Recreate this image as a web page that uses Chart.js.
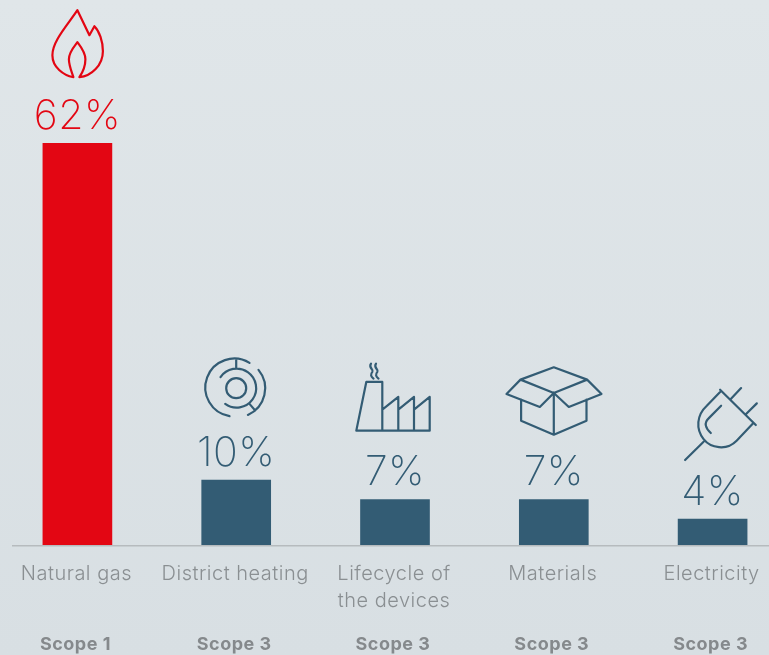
<!DOCTYPE html>
<html>
<head>
<meta charset="utf-8">
<script src="https://cdn.jsdelivr.net/npm/chart.js@4"></script>
<style>
  html, body { margin: 0; padding: 0; width: 769px; height: 655px; overflow: hidden; }
  body { background: linear-gradient(#e0e6e9, #d8dfe3); position: relative; }
  #myChart { position: absolute; left: -2px; top: 0; }
</style>
</head>
<body>
<canvas id="myChart" width="794" height="655"></canvas>
<script>
var categories = [['Natural gas'], ['District heating'], ['Lifecycle of', 'the devices'], ['Materials'], ['Electricity']];
var scopes = ['Scope 1', 'Scope 3', 'Scope 3', 'Scope 3', 'Scope 3'];
var values = [62, 10, 7, 7, 4];
var barColors = ['#e30613', '#335c74', '#335c74', '#335c74', '#335c74'];

// icons are drawn relative to the top centre of their bar
var icons = [
  'M-4 -66C-14 -68 -25 -76 -25 -88C-25 -102 -10 -118 0 -133L12 -108L17 -117C22 -112 25.5 -102 25.5 -92C25.5 -78 14 -67 2 -66C6 -72 8 -78 8 -84C8 -91 3 -97 0 -101C-3 -97 -8.5 -91 -8.5 -84C-8.5 -78 -6 -72 -4 -66Z',
  'M13.3 -117.3A29 29 0 1 0 -6.7 -64M22.3 -110.3A29 29 0 0 1 11.7 -65.3M-15.7 -103A19.5 19.5 0 1 1 -11 -76.3M10 -92A10 10 0 1 1 -10 -92A10 10 0 1 1 10 -92M0 -121L0 -111.5M13.3 -76.3L19 -69.7',
  'M-38.7 -69L-28.7 -117.7L-12.7 -117.7L-12.7 -69M-38.7 -69L34.7 -69L34.7 -102.7L19 -90L19 -102.7L3.3 -90L3.3 -102.7L-12.7 -90M3.3 -90L3.3 -69M19 -90L19 -69M-24 -136C-27 -132 -21 -130 -22.5 -128C-25 -125 -24 -123 -21.5 -121M-19 -136C-22 -132 -16 -130 -17.5 -128C-20 -125 -19 -123 -16.5 -121',
  'M0 -132.3L33.3 -120L0 -106.7L-33.3 -120ZM-33.3 -120L-47.3 -105.7L-14 -92.7L0 -106.7L15 -92.7L47.7 -105.7L33.3 -120M-32.7 -100L-32.7 -79L0 -65L32.7 -79L32.7 -100M0 -106.7L0 -65',
  'M7.5 -129.3L43.2 -94M18.2 -120L28.5 -131M33.5 -105L44.2 -115.7M7.5 -127L-5.8 -113.3C-16 -104 -17 -90 -9 -80C-2 -71 14 -68 24 -78.3L40.8 -96M-9 -77.3L-27.5 -59M8.5 -113.3L-4 -100.7C-9 -96 -7 -91 -1.8 -86'
];

var markupPlugin = {
  id: 'markup',
  beforeDraw: function (chart) {
    chart.ctx.letterSpacing = '0.5px';
  },
  beforeDatasetsDraw: function (chart) {
    var c = chart.ctx;
    var y0 = chart.scales.y.getPixelForValue(0);
    c.save();
    c.fillStyle = '#b6bbbe';
    c.fillRect(14, y0, chart.width - 14, 1.5);
    c.restore();
  },
  afterDatasetsDraw: function (chart) {
    var c = chart.ctx;
    var bars = chart.getDatasetMeta(0).data;
    bars.forEach(function (bar, i) {
      c.save();
      c.fillStyle = barColors[i];
      c.font = '250 41px Inter';
      c.letterSpacing = '0.5px';
      c.textAlign = 'center';
      c.textBaseline = 'alphabetic';
      c.fillText(values[i] + '%', bar.x, bar.y - 14.5);
      c.translate(bar.x, bar.y);
      c.strokeStyle = barColors[i];
      c.lineWidth = 2.2;
      c.lineJoin = 'round';
      c.lineCap = 'round';
      c.stroke(new Path2D(icons[i]));
      c.restore();
    });
  }
};

new Chart(document.getElementById('myChart'), {
  type: 'bar',
  data: {
    labels: categories,
    datasets: [{
      data: values,
      backgroundColor: barColors,
      barThickness: 69,
      borderWidth: 0
    }]
  },
  options: {
    responsive: false,
    animation: false,
    layout: { padding: 0 },
    plugins: { legend: { display: false }, tooltip: { enabled: false } },
    scales: {
      y: { display: false, min: 0, max: 84.1 },
      x: {
        position: 'bottom',
        weight: 0,
        grid: { display: false },
        border: { display: false },
        afterFit: function (scale) { scale.height = 78; },
        ticks: {
          autoSkip: false,
          maxRotation: 0,
          padding: 7,
          labelOffset: -1,
          color: '#8a8f92',
          font: { family: 'Inter', weight: 300, size: 20, lineHeight: 1.35 }
        }
      },
      x2: {
        type: 'category',
        labels: scopes,
        position: 'bottom',
        weight: 1,
        grid: { display: false },
        border: { display: false },
        afterFit: function (scale) { scale.height = 32; },
        ticks: {
          autoSkip: false,
          maxRotation: 0,
          padding: 3,
          labelOffset: -2,
          color: '#85898c',
          font: { family: 'Inter', weight: 700, size: 18 }
        }
      }
    }
  },
  plugins: [markupPlugin]
});
</script>
</body>
</html>
